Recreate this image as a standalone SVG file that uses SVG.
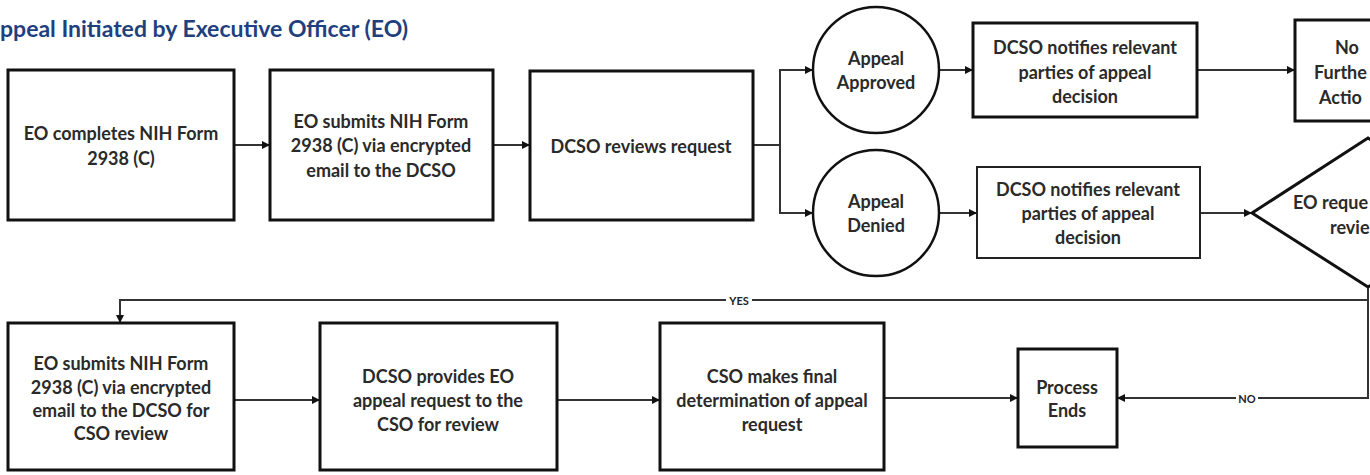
<svg xmlns="http://www.w3.org/2000/svg" width="1370" height="475" viewBox="0 0 1370 475">
<defs>
<marker id="arr" viewBox="0 0 10 10" refX="10" refY="5" markerWidth="9" markerHeight="8" markerUnits="userSpaceOnUse" orient="auto">
<path d="M0,0 L10,5 L0,10 z" fill="#111"/>
</marker>
<style>
.box{fill:#fff;stroke:#111;stroke-width:3}
.thin{fill:#fff;stroke:#222;stroke-width:2}
.circ{fill:#fff;stroke:#111;stroke-width:2.5}
.t{font-family:Lato,"Liberation Sans",sans-serif;font-weight:bold;font-size:18px;fill:#2a2a2a;text-anchor:middle;dominant-baseline:central}
.ts{font-family:Lato,"Liberation Sans",sans-serif;font-weight:bold;font-size:18px;fill:#2a2a2a;dominant-baseline:central}
.title{font-family:Lato,"Liberation Sans",sans-serif;font-weight:bold;font-size:23px;fill:#1f3f7f}
.c{fill:none;stroke:#333;stroke-width:2}
.lbl{font-family:Lato,"Liberation Sans",sans-serif;font-weight:bold;font-size:11px;fill:#222;text-anchor:middle;dominant-baseline:central}
</style>
</defs>
<rect width="1370" height="475" fill="#fff"/>
<text class="title" x="0" y="37">ppeal Initiated by Executive Officer (EO)</text>

<g id="connectors">
<path class="c" d="M234,145 H270" marker-end="url(#arr)"/>
<path class="c" d="M493,145 H530" marker-end="url(#arr)"/>
<path class="c" d="M753,145 H780 V70 H813" marker-end="url(#arr)"/>
<path class="c" d="M780,145 V213 H813" marker-end="url(#arr)"/>
<path class="c" d="M939,70 H973" marker-end="url(#arr)"/>
<path class="c" d="M939,213 H977" marker-end="url(#arr)"/>
<path class="c" d="M1197,70 H1295" marker-end="url(#arr)"/>
<path class="c" d="M1200,213 H1252" marker-end="url(#arr)"/>
<path class="c" d="M1368,287 V398 H1117" marker-end="url(#arr)"/>
<path class="c" d="M1368,300 H120 V323" marker-end="url(#arr)"/>
<path class="c" d="M234,400 H320" marker-end="url(#arr)"/>
<path class="c" d="M557,400 H660" marker-end="url(#arr)"/>
<path class="c" d="M884,398 H1018" marker-end="url(#arr)"/>
<rect x="726" y="294" width="26" height="12" fill="#fff"/>
<text class="lbl" x="739" y="300">YES</text>
<rect x="1236" y="392" width="22" height="12" fill="#fff"/>
<text class="lbl" x="1247" y="398">NO</text>
</g>

<g id="n1">
<rect class="box" x="8" y="70" width="226" height="150"/>
<text class="t" x="121" y="133">EO completes NIH Form</text>
<text class="t" x="121" y="158">2938 (C)</text>
</g>
<g id="n2">
<rect class="box" x="270" y="70" width="223" height="150"/>
<text class="t" x="381" y="121">EO submits NIH Form</text>
<text class="t" x="381" y="145">2938 (C) via encrypted</text>
<text class="t" x="381" y="170">email to the DCSO</text>
</g>
<g id="n3">
<rect class="box" x="530" y="71" width="223" height="149"/>
<text class="t" x="641" y="146">DCSO reviews request</text>
</g>
<g id="n4">
<circle class="circ" cx="876" cy="70" r="63"/>
<text class="t" x="876" y="58">Appeal</text>
<text class="t" x="876" y="82">Approved</text>
</g>
<g id="n5">
<circle class="circ" cx="876" cy="213" r="63"/>
<text class="t" x="876" y="201">Appeal</text>
<text class="t" x="876" y="225">Denied</text>
</g>
<g id="n6">
<rect class="box" x="973" y="23" width="224" height="94"/>
<text class="t" x="1085" y="47">DCSO notifies relevant</text>
<text class="t" x="1085" y="72">parties of appeal</text>
<text class="t" x="1085" y="96">decision</text>
</g>
<g id="n7">
<rect class="thin" x="977" y="167" width="223" height="91"/>
<text class="t" x="1088" y="189">DCSO notifies relevant</text>
<text class="t" x="1088" y="213">parties of appeal</text>
<text class="t" x="1088" y="237">decision</text>
</g>
<g id="n8">
<rect class="box" x="1295" y="20" width="104" height="101"/>
<text class="ts" x="1335" y="47">No</text>
<text class="ts" x="1314" y="72">Furthe</text>
<text class="ts" x="1319" y="97">Actio</text>
</g>
<g id="n9">
<polygon class="box" points="1252,213 1368,138 1484,213 1368,287"/>
<text class="ts" x="1293" y="202">EO reque</text>
<text class="ts" x="1330" y="227">revie</text>
</g>
<g id="n10">
<rect class="box" x="8" y="323" width="226" height="147"/>
<text class="t" x="121" y="363">EO submits NIH Form</text>
<text class="t" x="121" y="387">2938 (C) via encrypted</text>
<text class="t" x="121" y="410">email to the DCSO for</text>
<text class="t" x="121" y="433">CSO review</text>
</g>
<g id="n11">
<rect class="box" x="320" y="323" width="237" height="147"/>
<text class="t" x="438" y="376">DCSO provides EO</text>
<text class="t" x="438" y="400">appeal request to the</text>
<text class="t" x="438" y="424">CSO for review</text>
</g>
<g id="n12">
<rect class="box" x="660" y="323" width="224" height="147"/>
<text class="t" x="772" y="376">CSO makes final</text>
<text class="t" x="772" y="400">determination of appeal</text>
<text class="t" x="772" y="424">request</text>
</g>
<g id="n13">
<rect class="box" x="1018" y="349" width="99" height="98"/>
<text class="t" x="1067" y="387">Process</text>
<text class="t" x="1067" y="410">Ends</text>
</g>
</svg>
